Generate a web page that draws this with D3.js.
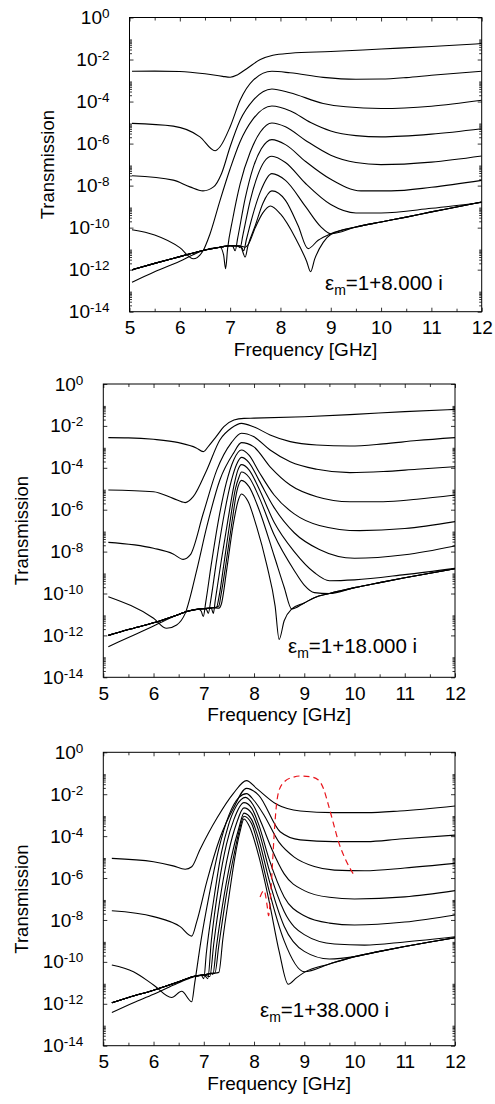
<!DOCTYPE html>
<html>
<head>
<meta charset="utf-8">
<script src="https://cdn.jsdelivr.net/npm/d3@7"></script>
<style>
  body { margin: 0; background: #fff; }
  svg { display: block; }
  text { font-family: "Liberation Sans", Arial, Helvetica, sans-serif; fill: #000; }
</style>
</head>
<body>
<svg id="chart" width="495" height="1104"></svg>
<script>
// --- Axis values ---
const xTicks = d3.range(5, 12.01, 0.5);
const yMajorExp = [0, -2, -4, -6, -8, -10, -12, -14];
const yMinorMult = [2, 3, 4, 5, 6, 7, 8, 9];

// --- Data: [frequency GHz, log10(transmission)] ---
// Panel 1: eps_m = 1 + 8 i
const p1Floor = [[5.05,-12.0],[5.5,-11.7],[6.0,-11.38],[6.5,-11.06],[6.8,-10.93],[7.0,-10.86],[7.2,-10.87],[7.3,-10.93]];
const p1FloorR = [[9.0,-10.29],[9.5,-9.97],[10,-9.73],[10.5,-9.5],[11,-9.25],[11.5,-9.02],[12,-8.78]];
const p1c1 = [[5.05,-2.56],[5.5,-2.55],[6.0,-2.57],[6.5,-2.68],[6.85,-2.8],[7.0,-2.84],[7.15,-2.72],[7.35,-2.4],[7.6,-2.0],[7.85,-1.8],[8.2,-1.7],[9,-1.62],[10,-1.5],[11,-1.38],[12,-1.24]];
const p1c2 = [[5.05,-5.04],[5.87,-5.17],[6.4,-5.68],[6.7,-6.34],[6.8,-6.15],[7.0,-5.2],[7.2,-3.93],[7.46,-2.98],[7.83,-2.56],[8.19,-2.63],[8.85,-2.85],[9.5,-2.94],[10,-2.93],[10.5,-2.86],[11,-2.75],[12,-2.56]];
const p1c3 = [[5.05,-7.53],[5.87,-7.74],[6.2,-8.06],[6.46,-8.25],[6.67,-8.06],[6.83,-7.42],[7.0,-6.15],[7.2,-4.88],[7.46,-3.93],[7.83,-3.4],[8.19,-3.58],[8.85,-4.09],[9.3,-4.25],[10,-4.33],[11,-4.22],[12,-3.94]];
const p1c4 = [[5.05,-10.1],[5.5,-10.35],[6.0,-10.95],[6.27,-11.48],[6.45,-11.15],[6.6,-10.3],[6.8,-8.7],[7.0,-7.2],[7.2,-5.9],[7.45,-4.85],[7.83,-4.21],[8.2,-4.45],[8.6,-5.0],[9.0,-5.4],[9.5,-5.62],[10,-5.68],[11,-5.55],[12,-5.29]];
const p1c5 = [[5.05,-12.6],[5.5,-12.1],[6.0,-11.6],[6.3,-11.25],[6.5,-11.06],[6.8,-10.93],[6.87,-11.3],[6.91,-11.95],[6.95,-11.0],[7.05,-9.6],[7.2,-7.9],[7.4,-6.4],[7.6,-5.45],[7.83,-5.02],[8.1,-5.2],[8.5,-5.85],[9.0,-6.55],[9.5,-6.9],[10,-7.0],[11,-6.88],[12,-6.59]];
const p1c6 = [[7.05,-10.88],[7.1,-11.1],[7.15,-10.5],[7.3,-8.6],[7.45,-7.2],[7.62,-6.25],[7.83,-5.81],[8.1,-6.05],[8.5,-6.85],[9.0,-7.7],[9.6,-8.25],[10.2,-8.25],[11,-8.08],[12,-7.75]];
const p1c7 = [[7.15,-10.87],[7.2,-10.95],[7.25,-10.4],[7.4,-8.7],[7.55,-7.5],[7.68,-6.85],[7.83,-6.6],[8.1,-6.9],[8.5,-7.9],[9.0,-8.9],[9.5,-9.3],[10,-9.3],[11,-9.08],[12,-8.8]];
const p1c8 = [[7.22,-10.9],[7.27,-11.1],[7.32,-10.6],[7.45,-9.4],[7.6,-8.3],[7.83,-7.43],[8.1,-7.75],[8.5,-9.0],[8.8,-9.95],[9.0,-10.29]];
const p1c9 = [[7.3,-11.4],[7.35,-10.9],[7.5,-9.9],[7.65,-8.85],[7.83,-8.25],[8.1,-8.7],[8.35,-9.9],[8.55,-11.0],[8.75,-10.6],[9.0,-10.29]];
const p1c10 = [[7.36,-10.8],[7.5,-10.0],[7.65,-9.3],[7.8,-8.97],[8.0,-9.35],[8.3,-10.5],[8.52,-11.6],[8.6,-12.1],[8.68,-11.5],[8.85,-10.7],[9.0,-10.33]];

// Panel 2: eps_m = 1 + 18 i
const p2Floor = [[5.1,-12.0],[5.5,-11.72],[6.0,-11.4],[6.5,-11.0],[6.66,-10.86],[7.0,-10.72],[7.2,-10.68],[7.3,-10.7]];
const p2FloorR = [[9.2,-10.2],[9.5,-10.0],[10,-9.72],[10.5,-9.48],[11,-9.25],[11.5,-9.03],[12,-8.82]];
const p2c1 = [[5.1,-2.56],[5.5,-2.57],[6.0,-2.64],[6.5,-2.8],[6.85,-3.05],[6.99,-3.23],[7.1,-2.95],[7.25,-2.5],[7.4,-2.04],[7.6,-1.72],[7.8,-1.64],[8,-1.63],[9,-1.56],[10,-1.45],[11,-1.32],[12,-1.21]];
const p2c2 = [[5.1,-5.06],[6.0,-5.14],[6.39,-5.46],[6.63,-5.66],[6.79,-5.38],[7.06,-4.1],[7.32,-2.67],[7.55,-2.1],[7.75,-1.88],[7.99,-2.04],[8.32,-2.43],[8.72,-2.75],[9.25,-2.91],[9.91,-2.96],[10.57,-2.86],[11.24,-2.7],[12,-2.56]];
const p2c3 = [[5.1,-7.56],[6.0,-7.84],[6.39,-8.11],[6.59,-8.37],[6.73,-8.16],[6.99,-6.17],[7.26,-4.1],[7.55,-2.8],[7.75,-2.35],[7.99,-2.51],[8.32,-3.15],[8.72,-3.71],[9.25,-4.07],[9.91,-4.23],[10.57,-4.18],[11.24,-4.07],[12,-3.95]];
const p2c4 = [[5.1,-10.15],[6.0,-11.18],[6.26,-11.66],[6.46,-11.5],[6.63,-10.95],[6.86,-8.88],[7.06,-6.81],[7.32,-4.58],[7.59,-3.31],[7.75,-2.8],[7.99,-2.99],[8.32,-3.95],[8.72,-4.82],[9.25,-5.38],[9.91,-5.62],[10.57,-5.62],[11.24,-5.5],[12,-5.3]];
const p2c5 = [[5.1,-12.54],[5.5,-12.1],[6.0,-11.55],[6.3,-11.2],[6.5,-11.0],[6.66,-10.86],[6.9,-10.75],[6.95,-10.85],[6.99,-11.1],[7.04,-10.4],[7.15,-8.6],[7.3,-6.4],[7.45,-4.7],[7.6,-3.6],[7.75,-3.15],[7.9,-3.4],[8.1,-4.2],[8.4,-5.3],[8.8,-6.2],[9.3,-6.75],[10.1,-7.0],[11,-6.9],[12,-6.57]];
const p2c6 = [[7.05,-10.75],[7.09,-10.95],[7.14,-10.3],[7.25,-8.5],[7.4,-6.3],[7.55,-4.6],[7.65,-3.85],[7.75,-3.5],[7.9,-3.75],[8.1,-4.6],[8.4,-5.9],[8.8,-7.1],[9.3,-7.9],[10,-8.32],[11,-8.15],[12,-7.73]];
const p2c7 = [[7.15,-10.7],[7.19,-10.95],[7.23,-10.3],[7.35,-8.4],[7.48,-6.5],[7.6,-4.85],[7.68,-4.1],[7.75,-3.85],[7.9,-4.1],[8.1,-5.0],[8.4,-6.6],[8.8,-8.0],[9.2,-9.0],[9.5,-9.39],[10,-9.35],[11,-9.1],[12,-8.8]];
const p2c8 = [[7.25,-10.68],[7.3,-10.2],[7.4,-8.6],[7.52,-6.6],[7.63,-5.0],[7.7,-4.45],[7.75,-4.2],[7.9,-4.45],[8.1,-5.4],[8.4,-7.2],[8.8,-8.9],[9.0,-9.6],[9.2,-9.96],[9.5,-10.0]];
const p2c9 = [[7.3,-10.6],[7.34,-10.1],[7.44,-8.6],[7.56,-6.6],[7.66,-5.1],[7.75,-4.6],[7.9,-4.9],[8.1,-6.0],[8.4,-8.2],[8.6,-9.7],[8.75,-10.74],[9.0,-10.45],[9.2,-10.2]];
const p2c10 = [[7.35,-10.5],[7.46,-8.8],[7.58,-6.8],[7.68,-5.6],[7.75,-5.25],[7.88,-5.6],[8.05,-6.8],[8.25,-8.6],[8.42,-10.6],[8.5,-12.19],[8.6,-11.3],[8.75,-10.74],[9.0,-10.45],[9.2,-10.2]];

// Panel 3: eps_m = 1 + 38 i
const p3Floor = [[5.17,-11.95],[5.5,-11.7],[6.0,-11.35],[6.5,-10.95],[6.79,-10.7],[7.0,-10.62],[7.16,-10.55],[7.3,-10.5]];
const p3FloorR = [[9.0,-10.47],[9.5,-10.1],[10,-9.75],[10.5,-9.5],[11,-9.27],[11.5,-9.05],[12,-8.85]];
const p3c2 = [[5.17,-5.06],[6.0,-5.22],[6.39,-5.42],[6.63,-5.58],[6.76,-5.46],[6.92,-4.66],[7.26,-3.15],[7.59,-1.96],[7.85,-1.35],[8.05,-1.72],[8.45,-2.48],[8.92,-2.8],[9.58,-2.88],[10.24,-2.88],[10.9,-2.8],[12,-2.56]];
const p3c3 = [[5.17,-7.56],[6.0,-7.84],[6.53,-8.32],[6.76,-8.77],[6.86,-8.08],[7.06,-6.17],[7.32,-4.1],[7.59,-2.67],[7.85,-1.72],[8.09,-2.04],[8.52,-3.79],[8.92,-4.18],[9.58,-4.26],[10.24,-4.26],[10.9,-4.14],[12,-3.95]];
const p3c4 = [[5.17,-10.15],[5.6,-10.47],[6.0,-11.1],[6.36,-11.7],[6.56,-11.4],[6.76,-11.9],[6.82,-11.0],[6.95,-8.9],[7.1,-6.9],[7.3,-4.6],[7.5,-3.0],[7.7,-2.15],[7.85,-1.97],[8.0,-2.3],[8.2,-3.0],[8.5,-4.3],[8.8,-5.0],[9.2,-5.45],[9.6,-5.62],[10.2,-5.65],[11,-5.52],[12,-5.3]];
const p3c5 = [[5.17,-12.42],[5.6,-11.95],[6.0,-11.55],[6.4,-11.1],[6.7,-10.8],[6.95,-10.65],[7.0,-10.8],[7.05,-9.6],[7.2,-7.0],[7.35,-4.8],[7.5,-3.4],[7.65,-2.55],[7.83,-2.15],[7.98,-2.5],[8.15,-3.4],[8.35,-4.6],[8.6,-5.8],[9.0,-6.6],[9.5,-6.92],[10,-7.0],[11,-6.9],[12,-6.6]];
const p3c6 = [[7.08,-10.8],[7.15,-9.0],[7.3,-6.3],[7.45,-4.4],[7.6,-3.2],[7.8,-2.4],[7.95,-2.65],[8.1,-3.5],[8.3,-5.1],[8.6,-6.9],[9.0,-7.8],[9.5,-8.15],[10,-8.24],[11,-8.1],[12,-7.76]];
const p3c7 = [[7.12,-10.7],[7.2,-9.1],[7.35,-6.6],[7.5,-4.7],[7.65,-3.4],[7.8,-2.65],[7.95,-2.9],[8.1,-3.8],[8.3,-5.6],[8.6,-7.6],[9.0,-8.7],[9.6,-9.15],[10.2,-9.2],[11,-9.05],[12,-8.8]];
const p3c8 = [[7.18,-10.6],[7.25,-9.3],[7.4,-6.9],[7.55,-5.0],[7.7,-3.6],[7.8,-2.9],[7.95,-3.2],[8.1,-4.2],[8.3,-6.1],[8.6,-8.3],[9.0,-9.5],[9.5,-9.86],[10,-9.75]];
const p3c9 = [[7.22,-10.55],[7.3,-9.2],[7.45,-6.8],[7.6,-4.9],[7.72,-3.6],[7.8,-3.05],[7.95,-3.4],[8.1,-4.6],[8.3,-6.6],[8.6,-9.0],[9.0,-10.47]];
const p3c10 = [[7.3,-10.5],[7.38,-8.9],[7.5,-6.9],[7.62,-5.0],[7.72,-3.8],[7.8,-3.18],[7.92,-3.6],[8.1,-5.0],[8.3,-7.1],[8.5,-9.5],[8.68,-11.07],[8.85,-10.75],[9.0,-10.5]];
// red dashed curve (panel 3)
const p3Red = [[8.12,-6.9],[8.2,-6.6],[8.26,-7.3],[8.29,-7.8],[8.33,-6.8],[8.37,-5.2],[8.4,-3.95],[8.44,-2.67],[8.5,-1.8],[8.62,-1.37],[8.78,-1.19],[8.92,-1.13],[9.11,-1.16],[9.28,-1.32],[9.38,-1.72],[9.48,-2.51],[9.58,-3.39],[9.68,-4.26],[9.81,-5.06],[9.91,-5.54],[10.01,-5.93]];

// helpers to join a curve with the shared noise floor
const before = (floor, f) => floor.filter(p => p[0] < f);
const after = (floor, f) => floor.filter(p => p[0] > f);

const panels = [
  {
    box: { l: 129.5, r: 481.7, t: 17.5, b: 311.7 }, titleX: 48,
    eps: "1+8.000 i", labelX: 325, labelY: 290,
    curves: [p1c1, p1c2, p1c3, p1c4, p1c5,
      before(p1Floor, 7.05).concat(p1c6),
      before(p1Floor, 7.15).concat(p1c7),
      before(p1Floor, 7.22).concat(p1c8, after(p1FloorR, 9.0)),
      before(p1Floor, 7.3).concat(p1c9, after(p1FloorR, 9.0)),
      before(p1Floor, 7.36).concat(p1c10, after(p1FloorR, 9.0))],
    dashed: null
  },
  {
    box: { l: 103.3, r: 455, t: 384, b: 677.3 }, titleX: 22,
    eps: "1+18.000 i", labelX: 288, labelY: 653,
    curves: [p2c1, p2c2, p2c3, p2c4, p2c5,
      before(p2Floor, 7.05).concat(p2c6),
      before(p2Floor, 7.15).concat(p2c7),
      before(p2Floor, 7.25).concat(p2c8, after(p2FloorR, 9.5)),
      before(p2Floor, 7.3).concat(p2c9, after(p2FloorR, 9.2)),
      before(p2Floor, 7.35).concat(p2c10, after(p2FloorR, 9.2))],
    dashed: null
  },
  {
    box: { l: 103.3, r: 455, t: 752.3, b: 1045.7 }, titleX: 22,
    eps: "1+38.000 i", labelX: 260, labelY: 1017,
    curves: [p3c2, p3c3, p3c4, p3c5,
      before(p3Floor, 7.08).concat(p3c6),
      before(p3Floor, 7.12).concat(p3c7),
      before(p3Floor, 7.18).concat(p3c8, after(p3FloorR, 10)),
      before(p3Floor, 7.22).concat(p3c9, after(p3FloorR, 9.0)),
      before(p3Floor, 7.3).concat(p3c10, after(p3FloorR, 9.0))],
    dashed: p3Red
  }
];

const svg = d3.select("#chart");
const FONT = "Liberation Sans, Arial, sans-serif";

panels.forEach((p, i) => {
  const { l, r, t, b } = p.box;
  const x = d3.scaleLinear().domain([5, 12]).range([l, r]);
  const y = d3.scaleLog().domain([1e-14, 1]).range([b, t]);
  const g = svg.append("g").attr("class", "panel");

  g.append("clipPath").attr("id", "clip" + i)
    .append("rect").attr("x", l).attr("y", t).attr("width", r - l).attr("height", b - t);

  const line = d3.line()
    .x(d => x(d[0]))
    .y(d => y(Math.pow(10, d[1])))
    .curve(d3.curveMonotoneX);

  const plot = g.append("g").attr("clip-path", `url(#clip${i})`);
  plot.selectAll("path.curve").data(p.curves).enter()
    .append("path").attr("class", "curve")
    .attr("d", line)
    .attr("fill", "none").attr("stroke", "#000").attr("stroke-width", 1.1)
    .attr("stroke-linejoin", "round");

  if (p.dashed) {
    plot.append("path").datum(p.dashed)
      .attr("d", line)
      .attr("fill", "none").attr("stroke", "#e8141b").attr("stroke-width", 1.2)
      .attr("stroke-dasharray", "6,4");
  }

  // x axes (ticks inward)
  const xb = g.append("g").attr("transform", `translate(0,${b})`)
    .call(d3.axisBottom(x).tickValues(xTicks).tickSizeInner(-4).tickSizeOuter(0).tickPadding(9)
      .tickFormat(d => Number.isInteger(d) ? d : ""));
  const xt = g.append("g").attr("transform", `translate(0,${t})`)
    .call(d3.axisTop(x).tickValues(xTicks).tickSizeInner(-4).tickSizeOuter(0).tickFormat(""));
  [xb, xt].forEach(a => {
    a.select(".domain").remove();
    a.selectAll(".tick line").attr("stroke-width", 0.8);
    a.selectAll(".tick").filter(d => !Number.isInteger(d)).select("line")
      .attr("y2", a === xb ? -3 : 3);
  });
  xb.selectAll(".tick text").attr("font-size", 19).style("font-family", FONT);

  // y axes
  const majors = yMajorExp.map(e => Math.pow(10, e));
  const minors = [];
  yMajorExp.slice(1).forEach(e => yMinorMult.forEach(k => minors.push(k * Math.pow(10, e))));

  const yl = g.append("g").attr("transform", `translate(${l},0)`)
    .call(d3.axisLeft(y).tickValues(majors).tickSizeInner(-4).tickSizeOuter(0).tickPadding(20));
  const yr = g.append("g").attr("transform", `translate(${r},0)`)
    .call(d3.axisRight(y).tickValues(majors).tickSizeInner(-4).tickSizeOuter(0).tickFormat(""));
  const ylm = g.append("g").attr("transform", `translate(${l},0)`)
    .call(d3.axisLeft(y).tickValues(minors).tickSizeInner(-2.5).tickSizeOuter(0).tickFormat(""));
  const yrm = g.append("g").attr("transform", `translate(${r},0)`)
    .call(d3.axisRight(y).tickValues(minors).tickSizeInner(-2.5).tickSizeOuter(0).tickFormat(""));
  [yl, yr, ylm, yrm].forEach(a => {
    a.select(".domain").remove();
    a.selectAll(".tick line").attr("stroke-width", 0.8);
  });

  yl.selectAll(".tick text").each(function (d) {
    const e = Math.round(Math.log10(d));
    const txt = d3.select(this).text(null)
      .attr("font-size", 19).style("font-family", FONT);
    txt.append("tspan").text("10");
    txt.append("tspan").attr("dy", "-0.45em").attr("font-size", 13.5).text(e === 0 ? "0" : "-" + (-e));
  });

  // frame
  g.append("rect").attr("x", l).attr("y", t).attr("width", r - l).attr("height", b - t)
    .attr("fill", "none").attr("stroke", "#000").attr("stroke-width", 1);

  // titles
  g.append("text")
    .attr("transform", `translate(${p.titleX},${(t + b) / 2}) rotate(-90)`)
    .attr("text-anchor", "middle").attr("dy", "0.35em")
    .attr("font-size", 18.5)
    .text("Transmission");

  g.append("text")
    .attr("x", (l + r) / 2).attr("y", b + 44)
    .attr("text-anchor", "middle")
    .attr("font-size", 19)
    .text("Frequency [GHz]");

  // annotation: eps_m = ...
  const ann = g.append("text").attr("x", p.labelX).attr("y", p.labelY).attr("font-size", 20.5);
  ann.append("tspan").text("ε");
  ann.append("tspan").attr("dy", 5).attr("font-size", 14).text("m");
  ann.append("tspan").attr("dy", -5).text("=" + p.eps);
});
</script>
</body>
</html>
